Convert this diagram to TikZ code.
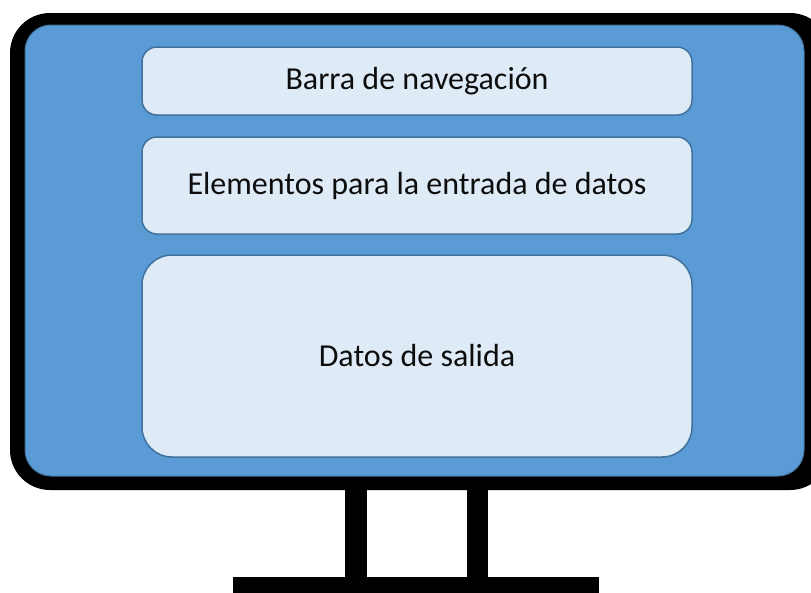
\documentclass[tikz,border=0pt]{standalone}
\usepackage{fontspec}
\setmainfont{Carlito}
\usetikzlibrary{positioning}
\definecolor{screenblue}{HTML}{5B9BD5}
\definecolor{edgeblue}{HTML}{41719C}
\definecolor{panelblue}{HTML}{DEEBF7}

\begin{document}
\begin{tikzpicture}[x=1pt, y=-1pt,
	screen/.style={fill=screenblue, draw=edgeblue, line width=1pt, rounded corners=26pt},
	panel/.style={draw=edgeblue, line width=1.5pt, fill=panelblue, rounded corners=15pt,
		minimum width=550pt, inner sep=0pt, outer sep=0pt, text=black!95,
		font=\fontsize{32}{38}\selectfont}]
	\useasboundingbox (0,0) rectangle (811,592);
	\clip (0,0) rectangle (811,592);
	\fill[rounded corners=40pt] (10,13) rectangle (830,490);
	\draw[screen] (25,25) rectangle (804,476);
	\fill (345,489) rectangle (367,578);
	\fill (467,489) rectangle (488,578);
	\fill (233,577) rectangle (599,600);
	\node[panel, minimum height=68pt] (nav) at (417,81) {Barra de navegación};
	\node[panel, minimum height=97pt, below=22pt of nav] (input) {Elementos para la entrada de datos};
	\node[panel, minimum height=202pt, rounded corners=30pt, below=21pt of input] (output) {Datos de salida};
\end{tikzpicture}
\end{document}
